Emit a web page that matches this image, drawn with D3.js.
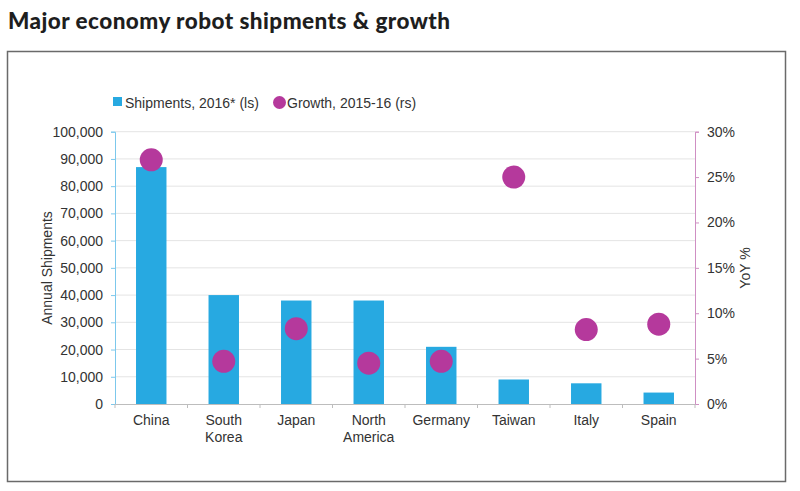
<!DOCTYPE html>
<html><head><meta charset="utf-8">
<script src="https://cdn.jsdelivr.net/npm/d3@7"></script>
<style>
body{margin:0;background:#fff;}
svg{display:block;}
text{font-family:"Liberation Sans",Arial,sans-serif;}
</style></head>
<body>
<svg id="c" width="800" height="491"></svg>
<script>
const categories = ["China","South Korea","Japan","North America","Germany","Taiwan","Italy","Spain"];
const shipments = [87000, 40000, 38000, 38000, 21000, 9000, 7600, 4200];
const growth = [26.9, 4.7, 8.3, 4.5, 4.7, 25.0, 8.2, 8.8];
const leftTicks = [0,10000,20000,30000,40000,50000,60000,70000,80000,90000,100000];
const rightTicks = [0,5,10,15,20,25,30];
const seriesNames = ["Shipments, 2016* (ls)", "Growth, 2015-16 (rs)"];

const barColor = "#27a9e1", dotColor = "#b5399c";
const svg = d3.select("#c");

svg.append("text").attr("x",8).attr("y",29)
  .style("font-family","Lato, 'Open Sans', sans-serif").style("font-weight","900")
  .style("font-size","22.5px").style("letter-spacing","0.45px").attr("fill","#1e1e1e")
  .text("Major economy robot shipments & growth");

svg.append("rect").attr("x",7.5).attr("y",51.5).attr("width",778).attr("height",430)
  .attr("fill","none").attr("stroke","#6a6a6a").attr("stroke-width",1.5);

const L = 115, R = 695, T = 131.7, B = 404;
const x = d3.scaleBand().domain(categories).range([L,R]).paddingInner(0.58).paddingOuter(0.29);
const yL = d3.scaleLinear().domain([0,100000]).range([B,T]);
const yR = d3.scaleLinear().domain([0,30]).range([B,T]);

// gridlines
svg.append("g").selectAll("line").data(leftTicks.filter(d=>d>0)).join("line")
  .attr("x1",L).attr("x2",R).attr("y1",d=>yL(d)).attr("y2",d=>yL(d))
  .attr("stroke","#e4e4e4").attr("stroke-width",1);

// bars
svg.append("g").selectAll("rect").data(categories).join("rect")
  .attr("x",d=>x(d)).attr("width",x.bandwidth())
  .attr("y",(d,i)=>yL(shipments[i])).attr("height",(d,i)=>yL(0)-yL(shipments[i]))
  .attr("fill",barColor);

// left axis
const la = svg.append("g").attr("transform",`translate(${L},0)`)
  .call(d3.axisLeft(yL).tickValues(leftTicks).tickSize(4).tickPadding(8).tickFormat(d3.format(",")));
la.select(".domain").attr("stroke","#7cc8ec");
la.selectAll(".tick line").attr("stroke","#7cc8ec");
la.selectAll("text").style("font-size","14px").attr("fill","#333").style("font-family","'Liberation Sans',Arial,sans-serif");

// right axis
const ra = svg.append("g").attr("transform",`translate(${R},0)`)
  .call(d3.axisRight(yR).tickValues(rightTicks).tickSize(4).tickPadding(8).tickFormat(d=>d+"%"));
ra.select(".domain").attr("stroke","#cf8fc3");
ra.selectAll(".tick line").attr("stroke","#cf8fc3");
ra.selectAll("text").style("font-size","14px").attr("fill","#333").style("font-family","'Liberation Sans',Arial,sans-serif");

// bottom axis
const bounds = d3.range(categories.length+1).map(i=>L + i*x.step());
const ba = svg.append("g");
ba.append("line").attr("x1",L).attr("x2",R).attr("y1",B+0.5).attr("y2",B+0.5).attr("stroke","#bdbdbd");
ba.selectAll("line.t").data(bounds).join("line").attr("class","t")
  .attr("x1",d=>d).attr("x2",d=>d).attr("y1",B).attr("y2",B+4).attr("stroke","#bdbdbd");
const lab = ba.selectAll("text").data(categories).join("text")
  .attr("x",d=>x(d)+x.bandwidth()/2).attr("y",425).attr("text-anchor","middle")
  .style("font-size","14px").attr("fill","#333");
lab.each(function(d){
  const words = d.split(" ");
  const t = d3.select(this);
  words.forEach((w,i)=>t.append("tspan").attr("x",x(d)+x.bandwidth()/2).attr("dy",i?16.5:0).text(w));
});

// dots
svg.append("g").selectAll("circle").data(categories).join("circle")
  .attr("cx",d=>x(d)+x.bandwidth()/2).attr("cy",(d,i)=>yR(growth[i])).attr("r",11.5)
  .attr("fill",dotColor);

// axis titles
svg.append("text").attr("transform","translate(52,268) rotate(-90)").attr("text-anchor","middle")
  .style("font-size","14px").attr("fill","#333").text("Annual Shipments");
svg.append("text").attr("transform","translate(750,268) rotate(-90)").attr("text-anchor","middle")
  .style("font-size","14px").attr("fill","#333").text("YoY %");

// legend
const lg = svg.append("g");
lg.append("rect").attr("x",113).attr("y",97).attr("width",9).attr("height",9).attr("fill",barColor);
lg.append("text").attr("x",125).attr("y",107.5).style("font-size","14px").attr("fill","#333").text(seriesNames[0]);
lg.append("circle").attr("cx",279.5).attr("cy",102.5).attr("r",6.5).attr("fill",dotColor);
lg.append("text").attr("x",287).attr("y",107.5).style("font-size","14px").attr("fill","#333").text(seriesNames[1]);
</script>
</body></html>
